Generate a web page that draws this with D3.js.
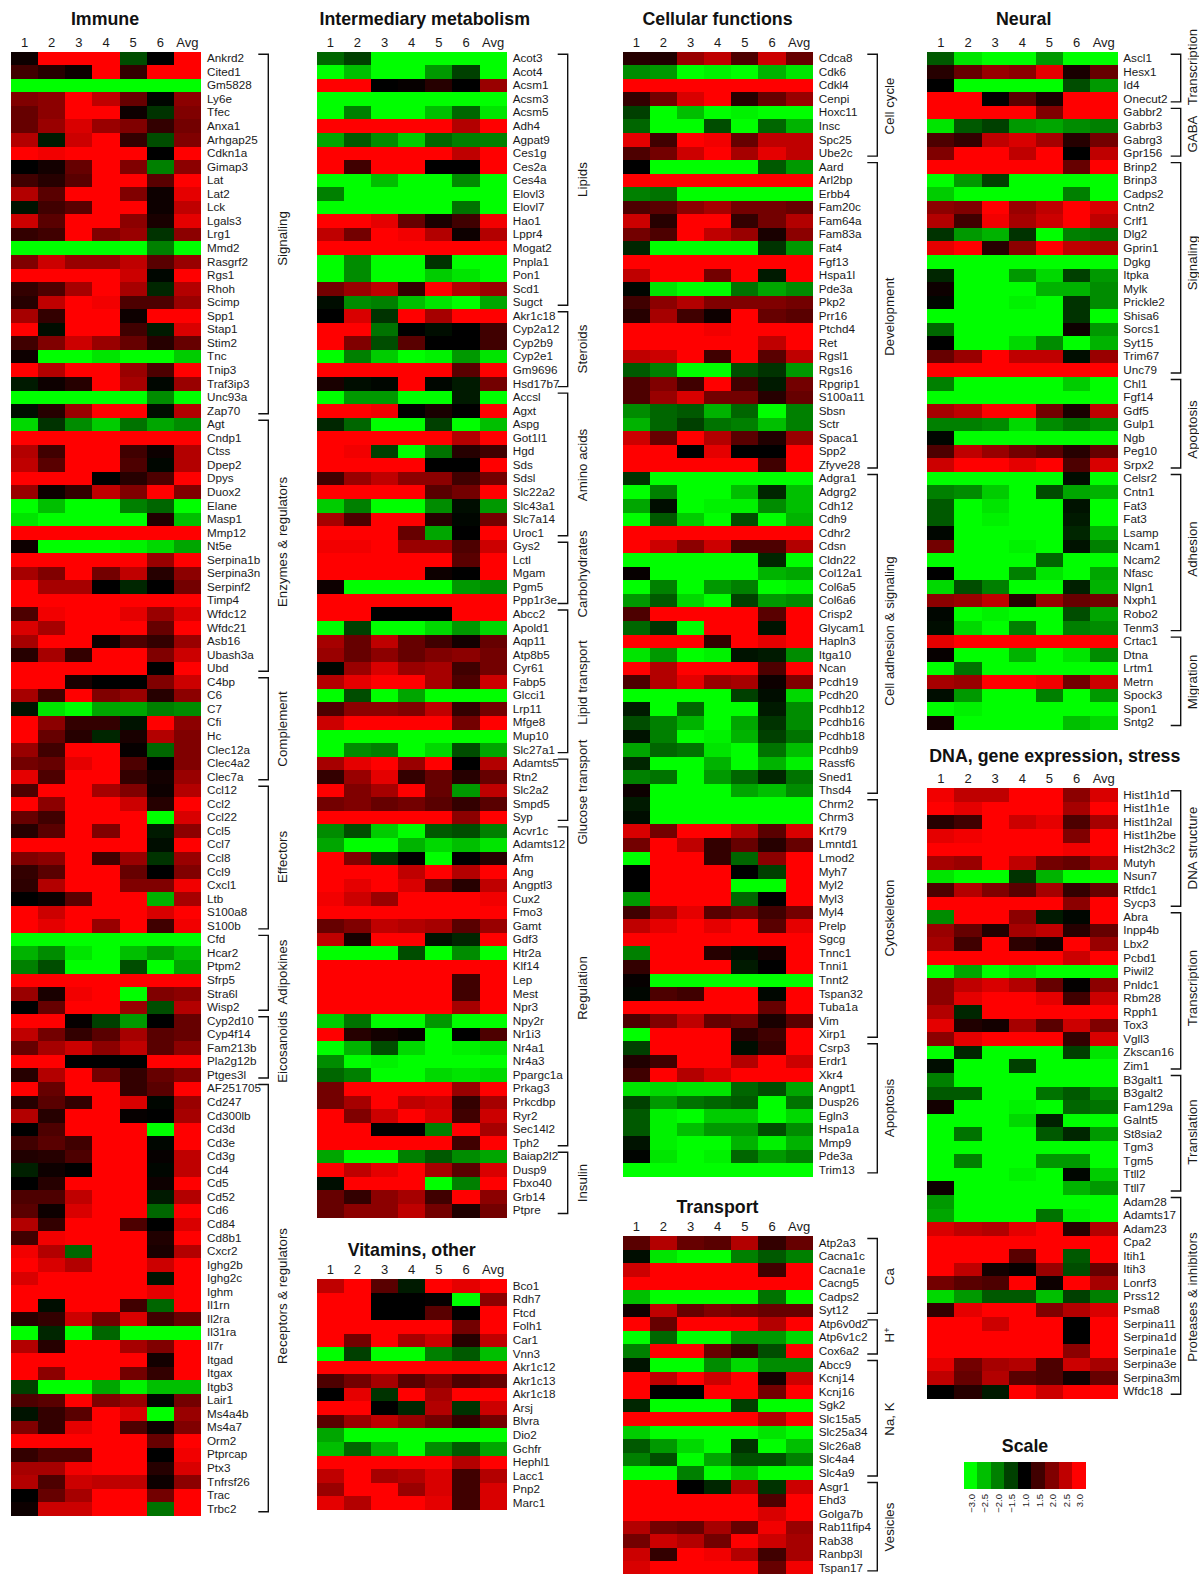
<!DOCTYPE html>
<html>
<head>
<meta charset="utf-8">
<title>Expression heatmap</title>
<script src="https://cdn.jsdelivr.net/npm/d3@7"></script>
<style>
  html, body { margin: 0; padding: 0; background: #fff; }
  svg { display: block; }
  text { font-family: "Liberation Sans", Arial, sans-serif; fill: #1a1a1a; }
  .title { font-size: 17.8px; font-weight: bold; fill: #111; }
</style>
</head>
<body>
<svg id="chart"></svg>
<script>
// Column headers
const columns = ["1", "2", "3", "4", "5", "6", "Avg"];

// Immune
const immuneGroups = ["Signaling", "Enzymes & regulators", "Complement", "Effectors", "Adipokines", "Eicosanoids", "Receptors & regulators"];
const immuneGroupSizes = [27, 19, 8, 11, 6, 5, 32];
const immuneGenes = ["Ankrd2","Cited1","Gm5828","Ly6e","Tfec","Anxa1","Arhgap25","Cdkn1a","Gimap3","Lat","Lat2","Lck","Lgals3","Lrg1","Mmd2","Rasgrf2","Rgs1","Rhoh","Scimp","Spp1","Stap1","Stim2","Tnc","Tnip3","Traf3ip3","Unc93a","Zap70",
  "Agt","Cndp1","Ctss","Dpep2","Dpys","Duox2","Elane","Masp1","Mmp12","Nt5e","Serpina1b","Serpina3n","Serpinf2","Timp4","Wfdc12","Wfdc21","Asb16","Ubash3a","Ubd",
  "C4bp","C6","C7","Cfi","Hc","Clec12a","Clec4a2","Clec7a",
  "Ccl12","Ccl2","Ccl22","Ccl5","Ccl7","Ccl8","Ccl9","Cxcl1","Ltb","S100a8","S100b",
  "Cfd","Hcar2","Ptpm2","Sfrp5","Stra6l","Wisp2",
  "Cyp2d10","Cyp4f14","Fam213b","Pla2g12b","Ptges3l",
  "AF251705","Cd247","Cd300lb","Cd3d","Cd3e","Cd3g","Cd4","Cd5","Cd52","Cd6","Cd84","Cd8b1","Cxcr2","Ighg2b","Ighg2c","Ighm","Il1rn","Il2ra","Il31ra","Il7r","Itgad","Itgax","Itgb3","Lair1","Ms4a4b","Ms4a7","Orm2","Ptprcap","Ptx3","Tnfrsf26","Trac","Trbc2"];
const immuneValues = [
  [1.1,3,3,3,-1.6,1,3],[1.5,1.3,1.1,3,1.4,3,3],[-3,-3,-3,-3,-3,-3,-3],[2,2.1,3,2.5,1.8,-1.05,2.1],[1.8,2.1,3,3,1.1,-1.4,2],[1.8,2.2,2.7,2.2,2,1.4,1.9],[2.4,-1.2,2.6,3,1.4,-1.6,2],[3,2.9,3,3,3,1,3],[1,1.15,1.8,3,2,-2,2.1],[1.5,1.3,1.7,3,3,1.7,3],[2.4,1.7,3,3,2,1.1,2.8],[-1.15,1.5,1.7,3,3,1.1,2.5],[2.6,1.7,3,3,2.1,1.2,2.8],[1.4,1.5,3,2,2.2,-1.4,2.1],[-3,-3,-3,-3,-3,-2,-3],[2,2.6,2.2,2.2,2.5,1.7,2.2],[3,3,3,3,2.6,-1.05,3],[1.4,1.6,2.3,3,2.3,-1.3,2.4],[1.3,2.5,3,2.9,1.6,1.6,2.2],[2.3,1.4,3,3,1.1,3,3],[3,-1.1,3,3,1.5,-1.2,2.7],[1.5,2,2.6,2.2,1.8,1.3,1.8],[1.1,-3,-3,-2.8,-3,-3,-2.6],[3,2.4,3,3,2.2,1.6,3],[-1.2,1.1,1.3,3,2.3,-1.05,2.2],[-3,-3,-3,-3,-3,-2.1,-3],[-1.1,1.3,2.2,3,3,-1.1,2.4],
  [-2.7,-1.4,-2.1,-2.6,-1.9,-2.3,-2.1],[3,3,3,3,3,3,3],[2.4,1.5,3,3,1.5,1.1,2.4],[2.5,1.7,3,3,1.6,-1.05,2.4],[3,3,3,1,1.3,1.6,3],[2.2,1.1,1.4,2.5,2,3,2],[-3,-2.5,-3,-3,-2,-1.8,-3],[-2.8,-3,-3,-3,-3,1.25,-2.5],[3,3,3,3,3,3,3],[1.1,-3,-3,-3,-2.9,-2.7,-2.3],[3,3,3,3,3,2.2,3],[2.3,2,3,1.9,2.5,1.3,2.1],[3,2.3,2.3,1,-1.3,1,1.9],[3,3,3,3,3,3,3],[1.6,2.9,3,3,2.8,2.2,2.7],[2.7,2.3,3,3,3,1.8,3],[2.3,3,3,1.1,1.6,1.4,2.2],[1.3,2.3,1.4,3,3,2,2.6],[3,3,3,3,3,1,3],
  [3,3,1.2,1,1,2,2.6],[2.3,1.5,3,2,2.2,1.3,2.1],[-1.15,-2.8,-3,-2.3,-2.3,-2,-2.1],[3,2.1,1.4,1.4,-1.15,3,2.1],[3,1.8,1.3,-1.3,1.2,2.4,2],[2.2,1.5,3,3,1.05,-1.8,2],[1.9,1.8,2.8,3,1.6,1,2],[2.8,1.6,3,3,1.4,1.15,2.2],
  [1.6,3,3,2.3,2,1.1,2.4],[3,2.1,3,3,2.6,1.3,3],[1.8,1.5,3,3,3,-3,2.7],[1.3,1.7,3,2,3,-1.2,2.1],[3,3,3,3,3,-1.1,3],[2,2.1,3,1.5,2.2,-1.4,2.2],[1.4,1.7,3,3,1.8,1,2],[1.35,2.4,3,3,2,2,2.9],[1,1.1,1.7,3,3,-2.4,2.3],[3,2.6,3,3,3,2.7,3],[3,2.8,3,2.2,3,1.5,2.9],
  [-3,-3,-3,-3,-3,-3,-3],[-2.4,-2.1,-2.8,-3,-2.5,-2.2,-2.5],[-2,-1.6,-3,-3,-1.6,-3,-2.3],[3,3,3,3,3,3,3],[2.2,1.2,2.9,3,-3,2,2.1],[1,1.8,3,3,2.2,-1.6,2.4],
  [3,3,1.05,-1.5,-2.2,1,1.8],[2.5,1.9,1.4,1.7,2.3,1.7,1.8],[1.8,2.3,2.6,2.1,2.5,1.7,2.1],[3,3,1,1,1,3,3],[1.3,2.4,3,1.9,1.4,1.8,2],
  [3,1.8,3,3,1.4,1.7,3],[1.3,1.7,1.4,3,2.7,-1.05,2.2],[2.4,1.3,3,3,1.05,1,2.3],[1,1.6,3,3,3,-3,3],[1.5,1.7,1.5,3,3,-1.05,3],[1.25,1.3,1.6,3,3,1.05,2.5],[-1.25,1.1,1,3,3,-1.05,2.5],[1,1.3,3,3,3,1.1,3],[1.6,1.6,2.5,3,3,-1.2,2.4],[1.7,1.1,2.7,3,3,-1.8,3],[2.4,1.4,3,3,1.6,1,2.7],[1.5,2.9,3,3,3,1.25,3],[2.9,2.4,-1.8,3,3,1.2,2.4],[3,2.7,2.4,3,3,2.6,3],[2.7,3,3,3,3,-1.15,3],[3,3,3,3,3,2.8,3],[3,-1.1,3,3,1.5,-1.8,3],[1.3,1.4,2.6,1.9,2.7,1.5,1.8],[-3,-1.3,-3,-1.8,-3,-3,-3],[2.4,1.3,3,3,2.3,2,3],[3,3,3,3,3,1.15,3],[3,2.1,3,3,1.9,1.4,3],[-1.5,-3,-3,-2.3,-2.9,-2.5,-2.5],[1.6,1.7,3,2,2.2,-1.05,1.9],[-1.15,1.4,1.7,3,2.7,-3,2.2],[2,1.4,2.8,3,1.6,1.1,2],[3,3,3,3,3,1.8,3],[1.4,1.6,1.6,3,3,1,2.9],[2.3,2.3,2.9,3,3,1.3,2.7],[2.4,1.6,2.6,2.5,2.5,1.1,2.1],[1,1.8,2.3,3,3,1.9,3],[1.1,2.6,2.6,3,3,-1.9,3]
];

// Intermediary metabolism
const metabolismGroups = ["Lipids", "Steroids", "Amino acids", "Carbohydrates", "Lipid transport", "Glucose transport", "Regulation", "Insulin"];
const metabolismGroupSizes = [19, 6, 11, 5, 11, 5, 24, 5];
const metabolismGenes = ["Acot3","Acot4","Acsm1","Acsm3","Acsm5","Adh4","Agpat9","Ces1g","Ces2a","Ces4a","Elovl3","Elovl7","Hao1","Lppr4","Mogat2","Pnpla1","Pon1","Scd1","Sugct",
  "Akr1c18","Cyp2a12","Cyp2b9","Cyp2e1","Gm9696","Hsd17b7",
  "Accsl","Agxt","Aspg","Got1l1","Hgd","Sds","Sdsl","Slc22a2","Slc43a1","Slc7a14","Uroc1",
  "Gys2","Lctl","Mgam","Pgm5","Ppp1r3e",
  "Abcc2","Apold1","Aqp11","Atp8b5","Cyr61","Fabp5","Glcci1","Lrp11","Mfge8","Mup10","Slc27a1",
  "Adamts5","Rtn2","Slc2a2","Smpd5","Syp",
  "Acvr1c","Adamts12","Afm","Ang","Angptl3","Cux2","Fmo3","Gamt","Gdf3","Htr2a","Klf14","Lep","Mest","Npr3","Npy2r","Nr1i3","Nr4a1","Nr4a3","Ppargc1a","Prkag3","Prkcdbp","Ryr2","Sec14l2","Tph2",
  "Baiap2l2","Dusp9","Fbxo40","Grb14","Ptpre"];
const metabolismValues = [
  [-1.8,-1.5,-3,-3,-3,-3,-3],[-3,-2.5,-3,-3,-2.2,-1.5,-3],[3,3,1,1.05,1.3,1,2.2],[-3,-3,-3,-3,-3,-3,-3],[-3,-2,-3,-3,-2.5,-1.8,-2.8],[3,3,3,3,3,2.4,3],[-2.3,-1.7,-2.1,-2.6,-1.8,-2,-2],[3,3,3,3,3,2.5,3],[3,1.5,3,3,1,1,3],[-3,-3,-2.5,-3,-3,-2.1,-3],[-2,-3,-3,-3,-3,-3,-3],[-3,-3,-3,-3,-3,-1.9,-3],[3,3,2.8,1.8,1.2,1.5,2.9],[2.5,1.9,3,2.9,2.4,1.1,2.4],[3,3,3,3,3,3,3],[-3,-2.1,-3,-3,-1.4,-3,-3],[-3,-2.1,-3,-3,-2.6,-2.8,-3],[1.9,2.2,2.5,1.4,3,2.4,2.2],[-1.1,-2.1,-2,-2.5,-2.8,-3,-2.3],
  [1,2.7,-1.4,3,2.3,3,3],[3,3,-1.9,1,-1.1,1,1.5],[3,2,-1.6,1.7,1,1,1.5],[-3,-2,-2.6,-3,-2.9,-2.2,-2.8],[3,3,3,3,3,1.7,3],[1.2,-1.1,-1.05,3,-1.05,-1.2,1.9],
  [-3,-2.2,-2.2,-3,-3,-1.2,-3],[3,3,2.9,1,1.2,1,3],[-1.3,-1.8,-3,-3,-1.5,-3,-2.5],[3,3,3,3,3,2.4,3],[3,2.9,-1.5,-3,-1.9,1.3,1.5],[3,3,3,3,1,1,3],[1.5,2.2,2.5,2.1,2.1,1.5,1.9],[3,3,3,3,1.7,1.9,3],[-2.6,-2,-3,-3,-2.1,-1.1,-2.2],[2.3,1.6,3,3,1.3,-1.05,1.9],[3,3,3,1.8,-2.3,1,3],
  [2.9,2.9,3,2.2,2.2,1.6,2.6],[3,3,3,3,3,1.7,3],[3,3,3,3,1.1,1,3],[1.1,-3,-3,-3,-3,-2.2,-2.1],[3,3,3,3,3,3,3],
  [3,3,1,1,1,3,3],[-3,-1.5,-3,-3,-2.7,-2.2,-2.7],[2.3,1.8,2.5,1.8,1.5,1.15,1.8],[2.2,1.8,2.1,1.8,2,2.1,1.9],[-1.05,2.2,2.7,2.2,2.3,1.5,1.9],[2.4,2.8,3,3,2.3,1.6,2.6],[-3,-1.6,-3,-2.3,-3,-3,-3],[1.6,2.1,2.1,2,2.5,1.4,1.9],[2.6,3,3,3,3,1.9,3],[-3,-3,-3,-3,-3,-3,-3],[-3,-2.1,-2,-3,-2.7,-1.6,-2.3],
  [2.3,2.8,3,2.2,3,1,2.4],[1.4,2.2,2.8,1.4,1.8,1.3,1.8],[3,2,2.3,3,1.8,-2.2,2.5],[1.9,2,1.8,1.9,1.7,1.4,1.7],[3,3,3,3,3,2.1,3],
  [-2.1,-1.6,-2.6,-3,-1.7,-1.6,-2],[-2.3,-3,-3,-2.4,-2.7,-2.5,-2.8],[3,2,-1.4,1,-3,1,1.3],[3,3,3,2.5,3,2.4,3],[3,2.8,3,2.7,1.8,1.3,2.5],[2.9,2.6,2.2,3,3,3,2.9],[3,3,3,3,3,3,3],[1.8,2,2.5,2.4,2.3,1.7,2.2],[2.5,1.2,3,3,-1.15,-1.3,3],[-3,-3,-3,-1.6,-3,-2.1,-3],[3,3,3,3,3,3,3],[3,3,3,3,3,1.5,3],[3,3,3,3,3,1.5,3],[3,3,3,3,3,2.3,3],[-2.6,-1.9,-3,-3,-2.2,-3,-3],[3,1.3,1.15,1.05,-3,1,1.6],[-3,-2.4,-1.6,-2.7,-3,-2.9,-2.8],[-2.1,-3,-2.9,-3,-3,-3,-3],[-1.8,-2,-3,-3,-2.7,-2.8,-2.7],[1.9,3,3,3,3,2.2,3],[1.9,2.3,3,2.5,2.6,1.4,2.3],[3,2,2.6,3,2.7,1.5,2.6],[3,3,1,1,-2,3,2.3],[3,3,3,3,3,1.5,3],
  [-2.3,-3,-3,-2,-1.7,-2.1,-2.3],[3,2.5,2.8,3,2.3,1.7,2.7],[-1.1,3,3,3,-3,-2,3],[1.8,1.4,2.1,2.3,1.5,3,2.1],[1.8,2.1,2.1,2.5,1.9,1.25,1.9]
];

// Vitamins, other
const vitaminGenes = ["Bco1","Rdh7","Ftcd","Folh1","Car1","Vnn3","Akr1c12","Akr1c13","Akr1c18","Arsj","Blvra","Dio2","Gchfr","Hephl1","Lacc1","Pnp2","Marc1"];
const vitaminValues = [
  [2.5,3,1.7,-1.2,3,2.8,3],[3,3,1,1,1.05,-3,2.1],[3,3,1,1,1.7,1,3],[3,3,3,3,3,1.9,3],[3,1.9,3,2.3,2.6,1.3,2.5],[-3,-1.5,-3,-3,-2,-1.7,-2.5],[3,3,3,3,3,3,3],[1.6,1.9,2.3,1.7,2,1.6,1.8],[1,2.8,-1.4,3,2.3,3,3],[3,3,1,-1.3,2.4,-1.4,2.6],[1.7,2.2,2.5,2.2,1.9,1.4,1.9],[-2.3,-3,-3,-3,-3,-3,-3],[-2.5,-1.8,-2.4,-3,-2.1,-1.7,-2.3],[3,3,3,3,3,2.4,3],[2.5,3,2.3,2.4,2.7,1.5,2.4],[2.2,3,3,2.2,2.7,1.5,2.7],[2.8,2.4,3,3,2.8,1.5,2.7]
];

// Cellular functions
const cellularGroups = ["Cell cycle", "Development", "Cell adhesion & signaling", "Cytoskeleton", "Apoptosis"];
const cellularGroupSizes = [8, 23, 24, 18, 10];
const cellularGenes = ["Cdca8","Cdk6","Cdkl4","Cenpi","Hoxc11","Insc","Spc25","Ube2c",
  "Aard","Arl2bp","Erbb4","Fam20c","Fam64a","Fam83a","Fat4","Fgf13","Hspa1l","Pde3a","Pkp2","Prr16","Ptchd4","Ret","Rgsl1","Rgs16","Rpgrip1","S100a11","Sbsn","Sctr","Spaca1","Spp2","Zfyve28",
  "Adgra1","Adgrg2","Cdh12","Cdh9","Cdhr2","Cdsn","Cldn22","Col12a1","Col6a5","Col6a6","Crisp2","Glycam1","Hapln3","Itga10","Ncan","Pcdh19","Pcdh20","Pcdhb12","Pcdhb16","Pcdhb18","Pcdhb9","Rassf6","Sned1","Thsd4",
  "Chrm2","Chrm3","Krt79","Lmntd1","Lmod2","Myh7","Myl2","Myl3","Myl4","Prelp","Sgcg","Tnnc1","Tnni1","Tnnt2","Tspan32","Tuba1a","Vim","Xirp1",
  "Csrp3","Erdr1","Xkr4","Angpt1","Dusp26","Egln3","Hspa1a","Mmp9","Pde3a","Trim13"];
const cellularValues = [
  [1.3,1.25,2.2,2.5,1.6,2.6,1.8],[-2.1,-2.2,-3,-2.9,-3,-2.4,-2.8],[3,3,3,3,3,3,3],[1.4,1.9,2.7,3,1.3,1.8,2.2],[-1.5,-3,-2.5,-3,-2.9,-3,-3],[-1.8,-3,-3,-1.6,-3,-1.8,-2.4],[2.8,1.5,3,2.9,1.8,2.5,2.5],[1.6,1.9,2.6,3,2.3,2.8,2.5],
  [1,-3,-3,-3,-3,-1.7,-2.2],[3,3,3,3,3,3,3],[-2,-1.9,-3,-3,-3,-3,-3],[1.6,1.7,2.1,2.3,1.9,1.9,1.8],[2.6,1.3,3,3,1.4,1.9,2.4],[1.9,1.6,3,2.5,2.2,1.2,2.1],[-1.3,-3,-3,-3,-3,-1.4,-2.2],[3,3,3,3,3,3,3],[2.5,3,3,1.9,3,-1.2,3],[-1.05,-2.8,-3,-3,-1.9,-2.3,-2.1],[1.5,2.1,2.4,2,2,2,1.9],[1.3,2.3,1.5,1.1,3,1.8,1.7],[3,3,3,2.9,3,3,3],[3,3,3,3,3,2.5,3],[2.5,2.6,3,1.5,3,1.7,2.5],[-1.7,-2,-3,-3,-1.6,-1.4,-2.2],[1.6,2,1.5,3,1.5,-1.2,1.9],[1.6,2.2,2.7,1.9,1.9,1.3,1.8],[-2.1,-1.8,-1.7,-2.4,-1.8,-3,-2],[-2.4,-1.8,-1.5,-1.9,-2,-2.5,-2],[2.6,1.8,3,2.4,1.7,1.25,2.2],[3,3,1,2.8,1,1,3],[3,3,3,3,3,1.5,3],
  [-1.4,-3,-3,-3,-3,-3,-3],[-3,-2,-3,-3,-2.5,-1.3,-2.5],[-2.3,-1.1,-3,-2.9,-2.9,-2.1,-2.5],[-3,-1.7,-2.6,-3,-1.6,-3,-2.4],[3,3,3,3,3,3,3],[3,2.6,2.1,2.6,1.6,1.6,2.4],[-3,-3,-3,-3,-3,-1.3,-3],[1.05,-3,-3,-3,-3,-2.4,-2.3],[-3,-2,-3,-2.2,-2,-3,-2.9],[-2.2,-1.7,-2.7,-3,-1.5,-2.2,-2.1],[1.6,3,3,3,3,1.7,3],[-1.8,-1.4,-3,3,3,-1.15,3],[3,3,3,1.4,3,2.8,3],[-2.8,-2.2,-3,-2.9,-1.15,-1.2,-2.1],[3,2.4,3,3,3,1.6,3],[1.6,2.4,2.8,2.2,2.3,1.1,2],[-3,-3,-3,-3,-1.5,-1.1,-2.7],[-1.2,-3,-1.8,-3,-3,-1.2,-2.1],[-1.6,-2,-2.4,-3,-2.3,-1.4,-2.1],[-1.15,-2,-3,-2.9,-2.4,-1.5,-1.9],[-2.3,-1.8,-1.9,-2.8,-3,-1.9,-2.5],[-1.3,-3,-3,-2.4,-3,-2.4,-2.9],[-2,-1.9,-3,-2.2,-1.8,-1.3,-1.9],[1.1,-3,-3,-3,-2.3,-2.5,-2.1],
  [-1.2,-3,-3,-3,-3,-3,-3],[-1.1,-3,-3,-3,-3,-3,-3],[2.7,1.9,3,3,2.4,1.7,2.7],[1.9,3,2.5,1.4,1.8,1.3,1.8],[-3,3,3,1.4,-1.8,2.1,3],[1,3,3,3,1,-1.5,3],[1,3,3,3,-3,-3,3],[-2.2,3,3,3,-1.8,1,3],[1.5,2.3,2.8,1.7,1.9,1.5,1.9],[2.5,2.8,3,2.8,3,1.7,2.8],[3,3,3,3,3,3,3],[-2,3,3,1.3,-1.1,1.15,3],[1.4,3,3,3,-1.2,1,3],[1.05,-3,-3,-3,-3,-3,-3],[-1.05,1.6,1.5,3,3,-1.05,3],[3,3,3,3,3,1.8,3],[1.6,2,2.5,1.8,1.9,1.2,1.7],[-3,3,3,3,1.3,1.5,3],
  [-1.5,3,3,3,-1.1,1.4,3],[1.25,1.5,3,3,2.4,3,2.6],[1.5,3,2.4,2.7,3,3,3],[-2.8,-2.7,-2.8,-2.8,-1.8,-1.6,-2.3],[-1.5,-2.2,-1.9,-1.8,-1.7,-3,-1.9],[-1.7,-2.9,-3,-2.6,-2.6,-3,-2.7],[-1.7,-2.9,-2.5,-2.2,-2.2,-1.6,-2.1],[-1.15,-2.9,-3,-3,-2.4,-2.9,-2.4],[-1.03,-2.8,-3,-2.9,-1.8,-2.2,-2],[-3,-3,-3,-3,-3,-3,-3]
];

// Transport
const transportGroups = ["Ca", "H+", "Na, K", "Vesicles"];
const transportGroupSizes = [6, 3, 9, 7];
const transportGenes = ["Atp2a3","Cacna1c","Cacna1e","Cacng5","Cadps2","Syt12",
  "Atp6v0d2","Atp6v1c2","Cox6a2",
  "Abcc9","Kcnj14","Kcnj16","Sgk2","Slc15a5","Slc25a34","Slc26a8","Slc4a4","Slc4a9",
  "Asgr1","Ehd3","Golga7b","Rab11fip4","Rab38","Ranbp3l","Tspan17"];
const transportValues = [
  [1.7,2.4,1.8,1.7,2.4,1.4,1.8],[-1.1,-2.8,-3,-3,-2,-1.7,-2],[2.6,3,3,3,3,1.5,3],[3,3,3,3,3,3,3],[-2.5,-3,-3,-3,-3,-1.9,-3],[1.15,2.5,1.8,2,1.9,1.8,1.8],
  [3,1.8,3,3,3,2.4,3],[-3,-1.8,-3,-3,-2.2,-2.2,-2.7],[-2,3,3,1.8,1.4,-1.6,3],
  [-1.15,-3,-3,-2.1,-2.7,-2.1,-2.1],[3,2.5,3,2.6,3,1.15,2.6],[3,1,1,3,3,1.9,3],[-1.3,-3,-3,-3,-1.5,-3,-3],[3,3,3,3,3,2.4,3],[-2.6,-3,-3,-3,-3,-2.8,-3],[-1.7,-2.2,-2.7,-3,-1.4,-3,-2.5],[-2,-1.6,-3,-2.3,-1.6,-1.6,-2],[-3,-3,-2,-3,-2.6,-3,-3],
  [3,3,1,-1.3,2.4,-1.4,2.6],[3,3,3,3,3,1.6,3],[3,3,3,3,3,2.7,3],[2.4,1.9,1.8,2.3,1.8,2.9,2.2],[1.9,2.6,2.4,1.9,3,2.6,2.3],[2.6,1.4,3,2.9,2.4,1.5,2.3],[2.7,3,3,3,3,1.8,2.9]
];

// Neural
const neuralGroups = ["Transcription", "GABA", "Signaling", "Apoptosis", "Adhesion", "Migration"];
const neuralGroupSizes = [4, 4, 16, 7, 12, 7];
const neuralGenes = ["Ascl1","Hesx1","Id4","Onecut2",
  "Gabbr2","Gabrb3","Gabrg3","Gpr156",
  "Brinp2","Brinp3","Cadps2","Cntn2","Crlf1","Dlg2","Gprin1","Dgkg","Itpka","Mylk","Prickle2","Shisa6","Sorcs1","Syt15","Trim67","Unc79",
  "Chl1","Fgf14","Gdf5","Gulp1","Ngb","Peg10","Srpx2",
  "Celsr2","Cntn1","Fat3","Fat3","Lsamp","Ncam1","Ncam2","Nfasc","Nlgn1","Nxph1","Robo2","Tenm3",
  "Crtac1","Dtna","Lrtm1","Metrn","Spock3","Spon1","Sntg2"];
const neuralValues = [
  [-1.7,-2.8,-3,-3,-2.2,-3,-3],[1.3,1.8,2.2,2.1,2.8,1.2,1.8],[1,-3,-3,-3,-3,-1.6,-2.2],[3,3,1,1.7,1.2,3,3],
  [3,3,3,3,2,3,3],[-2.8,-1.7,-1.5,-2.2,-2.3,-2.1,-2],[1.6,1.4,2.5,2.7,2.3,1.3,1.9],[2,3,3,2.5,3,1,2.5],
  [3,3,3,3,3,1.8,3],[-3,-2.2,-1.5,-3,-3,-3,-3],[-2.6,-3,-3,-3,-3,-2,-3],[2.1,2,3,2.2,2.5,3,2.7],[2.4,1.5,2.9,2.3,2.6,3,2.5],[-1.4,-2.2,-2.4,-1.4,-3,-2,-1.9],[2.8,3,1.3,2.1,3,2.5,2.4],[-3,-3,-3,-3,-3,-3,-3],[-1.3,-3,-3,-2.2,-2.7,-1.5,-2.2],[1.1,-3,-3,-3,-2.4,-2.4,-2.1],[-1.05,-3,-3,-2.9,-3,-1.4,-2.1],[-3,-3,-3,-3,-3,-1.4,-3],[-1.8,-3,-3,-3,-3,1.1,-2.2],[1,-3,-3,-2.7,-2.1,-3,-2.4],[1.8,2.2,3,2.5,2.5,-1.1,2.2],[3,3,3,3,3,3,3],
  [-2,-3,-3,-3,-3,-2.6,-3],[-3,-3,-3,-3,-3,-3,-3],[2.3,2.5,3,3,1.9,1.2,2.5],[-2,-2,-2.1,-2.7,-2.1,-1.9,-2.1],[-1.05,-3,-3,-3,-3,-3,-3],[1.6,2.5,2.2,1.9,1.7,1.3,1.8],[2.6,3,3,2.8,3,1.6,2.7],
  [-3,-3,-3,-3,-3,-1.1,-3],[-2,-2.1,-2.6,-3,-1.6,-2.3,-2.4],[-1.7,-3,-2.8,-3,-3,-1.15,-3],[-1.7,-3,-2.9,-3,-3,-1.2,-3],[-1.05,-3,-3,-3,-3,-1.3,-2.4],[1.9,-3,-3,-2.9,-3,-1.15,-2],[-3,-3,-3,-3,-1.8,-3,-3],[1,-3,-3,-2,-2.8,-3,-2.3],[-2.7,-1.6,-2,-3,-3,-1.25,-2.4],[2.1,2.2,2.5,1.3,2.2,1.8,1.9],[-1.05,-3,-2.9,-3,-3,-1.6,-2.3],[-1.1,-2.7,-3,-2,-3,-2,-2.1],
  [2.8,3,3,3,3,3,3],[1.05,-3,-3,-2.4,-3,-2.8,-2.1],[-3,-1.9,-3,-3,-3,-3,-3],[2.3,2.2,3,3,2.9,1.9,2.6],[-1.1,-2.2,-3,-3,-2,-3,-2.2],[-3,-2.9,-3,-3,-3,-3,-3],[1.15,-3,-3,-3,-3,-2.5,-2.7]
];

// DNA, gene expression, stress
const dnaGroups = ["DNA structure", "Transcription", "Translation", "Proteases & inhibitors"];
const dnaGroupSizes = [9, 12, 9, 15];
const dnaGenes = ["Hist1h1d","Hist1h1e","Hist1h2al","Hist1h2be","Hist2h3c2","Mutyh","Nsun7","Rtfdc1","Sycp3",
  "Abra","Inpp4b","Lbx2","Pcbd1","Piwil2","Pnldc1","Rbm28","Rpph1","Tox3","Vgll3","Zkscan16","Zim1",
  "B3galt1","B3galt2","Fam129a","Galnt5","St8sia2","Tgm3","Tgm5","Ttll2","Ttll7",
  "Adam28","Adamts17","Adam23","Cpa2","Itih1","Itih3","Lonrf3","Prss12","Psma8","Serpina11","Serpina1d","Serpina1e","Serpina3e","Serpina3m","Wfdc18"];
const dnaValues = [
  [2.9,2.5,2.5,3,3,2.1,2.7],[3,2.8,3,3,3,2.3,3],[1.3,1.5,3,2.6,2.8,1.6,2.3],[2.8,2.9,3,3,3,2,3],[3,3,3,3,3,2.9,3],[2.3,2.2,3,2.5,1.9,1.8,2.3],[-2.8,-3,-3,-1.4,-2.4,-3,-3],[1.6,2.4,2,1.7,2.3,1.4,1.8],[3,3,3,3,3,2.1,3],
  [-2.1,3,3,2.1,-1.2,-1.05,3],[2.2,1.8,1.25,2.3,2.5,1.3,1.8],[2.3,1.5,3,1.35,1.15,3,2.2],[3,3,3,3,3,2.6,3],[-3,-2.3,-3,-2.8,-3,-3,-3],[2.1,2.5,2.7,2.4,1.8,1.03,2.1],[2.1,2.8,3,3,2.8,1.5,2.6],[2.4,-1.3,3,3,3,3,3],[2.8,1.25,1.15,2.3,1.7,2.6,2],[2.1,2.8,3,3,3,1.4,2.7],[-3,-1.3,-3,-3,-3,-1.5,-2.8],[-1.1,-3,-3,-1.5,-3,-3,-3],
  [-2,-3,-3,-3,-3,-3,-3],[-1.7,-1.7,-3,-3,-1.9,-1.7,-2.1],[1.15,-3,-3,-2.9,-3,-1.8,-1.9],[-3,-3,-3,-2.7,-1.25,-3,-3],[-3,-1.9,-3,-3,-1.7,-1.3,-2.2],[-3,-3,-3,-3,-3,-3,-3],[-3,-2,-3,-3,-2.2,-2.2,-3],[-3,-3,-3,-2.9,-3,-1.05,-2.6],[1.1,-3,-3,-3,-3,-2.4,-2.2],
  [-2.2,-3,-3,-3,-3,-3,-3],[-2.3,-3,-3,-3,-1.9,-2.9,-3],[2.7,2.5,2.4,2.8,3,1.3,2.4],[3,3,3,3,3,3,3],[3,3,3,1.7,3,-1.7,3],[3,2.5,1.15,1.05,2.2,-1.6,1.8],[1.9,1.7,1.6,3,1.1,3,2.3],[-2.7,-2.2,-1.7,-1.7,-2.5,-1.5,-2],[1.4,2.8,3,3,2,2.4,2.7],[3,3,2.6,3,3,1,3],[3,3,3,3,3,1,3],[3,3,3,3,3,2.1,3],[2.8,1.9,2.3,2.4,1.6,2.6,2.3],[2.5,1.8,2.4,1.7,1.6,1.15,1.8],[1,1.3,-1.2,3,2.6,3,3]
];

// Legend
const scaleValues = [-3, -2.5, -2, -1.5, 1, 1.5, 2, 2.5, 3];

// Layout
const width = 1199, height = 1574;
const rowH = 13.556, panelW = 190;

const color = d3.scaleLinear()
  .domain([-3, -1, 1, 3])
  .range(["#00ff00", "#000000", "#000000", "#ff0000"])
  .clamp(true);

const panels = [
  { title: "Immune", genes: immuneGenes, values: immuneValues, groups: immuneGroups, sizes: immuneGroupSizes,
    x: 11, y: 51.7, titleX: 105, titleDy: 26.5, bracketX: 268.3, labelX: 282.7,
    labelY: [238.5, 542, 729, 857, 972, 1047, 1296] },
  { title: "Intermediary metabolism", genes: metabolismGenes, values: metabolismValues, groups: metabolismGroups, sizes: metabolismGroupSizes,
    x: 316.7, y: 51.7, titleX: 424.7, titleDy: 26.5, bracketX: 567.7, labelX: 582.7,
    labelY: [179.5, 349, 465, 574, 682.5, 792, 988, 1183] },
  { title: "Vitamins, other", genes: vitaminGenes, values: vitaminValues, groups: [], sizes: [],
    x: 316.7, y: 1279.3, titleX: 411.7, titleDy: 23.3, bracketX: 0, labelX: 0, labelY: [] },
  { title: "Cellular functions", genes: cellularGenes, values: cellularValues, groups: cellularGroups, sizes: cellularGroupSizes,
    x: 622.7, y: 51.7, titleX: 717.5, titleDy: 26.5, bracketX: 877.3, labelX: 889,
    labelY: [106, 316.7, 631, 918, 1108] },
  { title: "Transport", genes: transportGenes, values: transportValues, groups: transportGroups, sizes: transportGroupSizes,
    x: 622.7, y: 1236, titleX: 717.5, titleDy: 22.6, bracketX: 877.3, labelX: 889,
    labelY: [1276.7, 1335, 1419, 1527] },
  { title: "Neural", genes: neuralGenes, values: neuralValues, groups: neuralGroups, sizes: neuralGroupSizes,
    x: 927.3, y: 51.7, titleX: 1023.7, titleDy: 26.5, bracketX: 1180.7, labelX: 1192.7,
    labelY: [67, 134, 263, 429.5, 549, 682] },
  { title: "DNA, gene expression, stress", genes: dnaGenes, values: dnaValues, groups: dnaGroups, sizes: dnaGroupSizes,
    x: 927.3, y: 788.3, titleX: 1054.8, titleDy: 26, bracketX: 1180.7, labelX: 1192.7,
    labelY: [848, 988, 1132, 1297] }
];

const svg = d3.select("#chart")
  .attr("width", width)
  .attr("height", height)
  .attr("viewBox", [0, 0, width, height])
  .style("background", "#fff");

panels.forEach(drawPanel);
drawLegend();

function drawPanel(p) {
  const g = svg.append("g");
  const n = p.genes.length;

  const x = d3.scaleBand().domain(columns).range([p.x, p.x + panelW]);
  const y = d3.scaleBand().domain(d3.range(n)).range([p.y, p.y + n * rowH]);

  // Title
  g.append("text")
    .attr("class", "title")
    .attr("x", p.titleX)
    .attr("y", p.y - p.titleDy)
    .attr("text-anchor", "middle")
    .text(p.title);

  // Cells
  const rows = g.append("g").attr("shape-rendering", "crispEdges")
    .selectAll("g")
    .data(p.values)
    .join("g")
    .attr("transform", (d, i) => `translate(0,${y(i)})`);

  rows.selectAll("rect")
    .data(d => d)
    .join("rect")
    .attr("x", (d, i) => x(columns[i]))
    .attr("width", x.bandwidth() + 0.4)
    .attr("height", y.bandwidth() + 0.4)
    .attr("fill", d => color(d));

  // Column headers
  const top = g.append("g")
    .attr("transform", `translate(0,${p.y})`)
    .call(d3.axisTop(x).tickSize(0).tickPadding(5));
  top.select(".domain").remove();
  top.selectAll("text").style("font-size", "13px").style("font-family", null);

  // Gene labels
  const right = g.append("g")
    .attr("transform", `translate(${p.x + panelW},0)`)
    .call(d3.axisRight(y).tickSize(0).tickPadding(6).tickFormat(i => p.genes[i]));
  right.select(".domain").remove();
  right.selectAll("text").style("font-size", "11.7px").style("font-family", null);

  // Group brackets
  let start = 0;
  p.groups.forEach((name, k) => {
    const end = start + p.sizes[k];
    const y0 = p.y + start * rowH + 2.5;
    const y1 = p.y + end * rowH - 4;
    g.append("path")
      .attr("d", `M${p.bracketX - 10},${y0}H${p.bracketX}V${y1}H${p.bracketX - 10}`)
      .attr("fill", "none")
      .attr("stroke", "#111")
      .attr("stroke-width", 1.4);

    const label = g.append("text")
      .attr("transform", `translate(${p.labelX},${p.labelY[k]}) rotate(-90)`)
      .attr("text-anchor", "middle")
      .attr("dy", "0.35em")
      .style("font-size", "13.3px");
    if (name === "H+") {
      label.append("tspan").text("H");
      label.append("tspan").attr("dy", -4).style("font-size", "9px").text("+");
    } else {
      label.text(name);
    }
    start = end;
  });
}

function drawLegend() {
  const x = d3.scaleBand().domain(scaleValues).range([963.7, 1085.7]);
  const g = svg.append("g");

  g.append("text")
    .attr("class", "title")
    .attr("x", 1025)
    .attr("y", 1452)
    .attr("text-anchor", "middle")
    .text("Scale");

  g.append("g").attr("shape-rendering", "crispEdges")
    .selectAll("rect")
    .data(scaleValues)
    .join("rect")
    .attr("x", d => x(d))
    .attr("y", 1462.3)
    .attr("width", x.bandwidth() + 0.4)
    .attr("height", 26.7)
    .attr("fill", d => color(d));

  const axis = g.append("g")
    .attr("transform", "translate(1,1489)")
    .call(d3.axisBottom(x).tickSize(0).tickPadding(0).tickFormat(d3.format(".1f")));
  axis.select(".domain").remove();
  axis.selectAll("text")
    .style("font-size", "9.5px")
    .style("font-family", null)
    .attr("text-anchor", "end")
    .attr("dy", "0.35em")
    .attr("y", 0)
    .attr("transform", "translate(0,5) rotate(-90)");
}
</script>
</body>
</html>
